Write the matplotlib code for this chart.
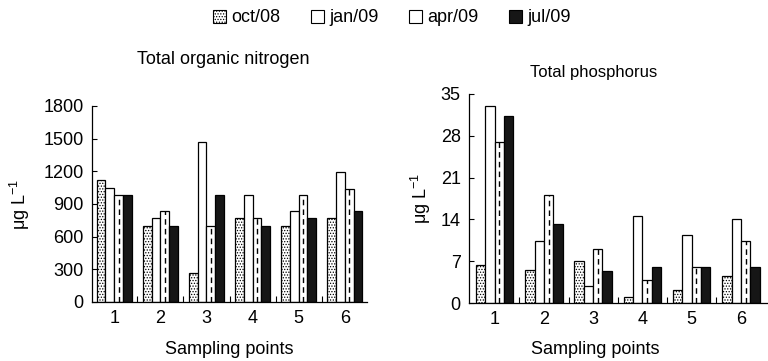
import numpy as np
import matplotlib
matplotlib.use("Agg")
import matplotlib.pyplot as plt
from matplotlib.patches import Patch
from matplotlib.ticker import FixedLocator

plt.rcParams["font.family"] = ["Liberation Sans", "DejaVu Sans"]
plt.rcParams["mathtext.fontset"] = "custom"
plt.rcParams["mathtext.rm"] = "Liberation Sans"
plt.rcParams["hatch.linewidth"] = 0.6

# Data
points = [1, 2, 3, 4, 5, 6]
periods = ["oct/08", "jan/09", "apr/09", "jul/09"]

nitrogen_oct08 = [1120, 700, 270, 775, 700, 775]
nitrogen_jan09 = [1050, 775, 1470, 980, 840, 1190]
nitrogen_apr09 = [980, 840, 700, 775, 980, 1035]
nitrogen_jul09 = [980, 700, 980, 700, 775, 840]

phosphorus_oct08 = [6.3, 5.5, 7.0, 0.95, 2.2, 4.6]
phosphorus_jan09 = [33.0, 10.4, 2.9, 14.5, 11.4, 14.0]
phosphorus_apr09 = [27.0, 18.1, 9.1, 3.9, 6.0, 10.4]
phosphorus_jul09 = [31.3, 13.3, 5.4, 6.0, 6.0, 6.0]

nitrogen_ticks = [0, 300, 600, 900, 1200, 1500, 1800]
phosphorus_ticks = [0, 7, 14, 21, 28, 35]

W, H = 768, 361
FS = 13
fig = plt.figure(figsize=(W / 100, H / 100), dpi=100)

width = 0.19
styles = [
    dict(facecolor="white", hatch="......"),
    dict(facecolor="white", hatch=None),
    dict(facecolor="white", hatch=None),
    dict(facecolor="#161616", hatch=None),
]


def draw(ax, series, ticks, xlim):
    x = np.array(points, dtype=float)
    for i, vals in enumerate(series):
        pos = x + (i - 1.5) * width
        ax.bar(pos, vals, width, edgecolor="black", linewidth=0.9, **styles[i])
        if i == 2:
            # apr/09 bars carry a dashed line down the middle
            ax.vlines(pos, 0, vals, colors="black", linestyles=(0, (4, 3)), linewidth=1.0)
    ax.set_xlim(*xlim)
    ax.set_ylim(0, ticks[-1])
    ax.set_yticks(ticks)
    ax.set_xticks(points)
    ax.xaxis.set_minor_locator(FixedLocator([p + 0.5 for p in points[:-1]]))
    ax.tick_params(axis="x", which="major", length=0, pad=6, labelsize=FS)
    ax.tick_params(axis="x", which="minor", direction="in", length=4, width=0.8)
    ax.tick_params(axis="y", direction="in", length=3.5, width=0.8, pad=6, labelsize=FS)
    for s in ["top", "right"]:
        ax.spines[s].set_visible(False)
    for s in ["left", "bottom"]:
        ax.spines[s].set_linewidth(0.9)
    ax.set_ylabel(r"μg L$^{-1}$", fontsize=FS)
    ax.set_xlabel("Sampling points", fontsize=FS)


# Left panel
ax1 = fig.add_axes([92 / W, 1 - 302 / H, 275 / W, 196 / H])
draw(ax1, [nitrogen_oct08, nitrogen_jan09, nitrogen_apr09, nitrogen_jul09],
     nitrogen_ticks, (0.52, 6.48))
ax1.yaxis.set_label_coords(-0.22, 0.5)
ax1.xaxis.set_label_coords(0.5, -0.2)

# Right panel
ax2 = fig.add_axes([469 / W, 1 - 303 / H, 299 / W, 209 / H])
draw(ax2, [phosphorus_oct08, phosphorus_jan09, phosphorus_apr09, phosphorus_jul09],
     phosphorus_ticks, (0.48, 6.55))
ax2.yaxis.set_label_coords(-0.12, 0.5)
ax2.xaxis.set_label_coords(0.422, -0.18)

fig.text(223 / W, 1 - 60 / H, "Total organic nitrogen", ha="center", va="center", fontsize=FS)
fig.text(594 / W, 1 - 72 / H, "Total phosphorus", ha="center", va="center", fontsize=FS - 1)

handles = [Patch(edgecolor="black", linewidth=0.8, **styles[i]) for i in range(4)]
fig.legend(handles, periods, loc="center", bbox_to_anchor=(392 / W, 1 - 18 / H),
           ncol=4, frameon=False, fontsize=FS, handlelength=0.7, handleheight=0.7,
           handletextpad=0.3, columnspacing=1.7)

fig.savefig("out.png", dpi=100)
